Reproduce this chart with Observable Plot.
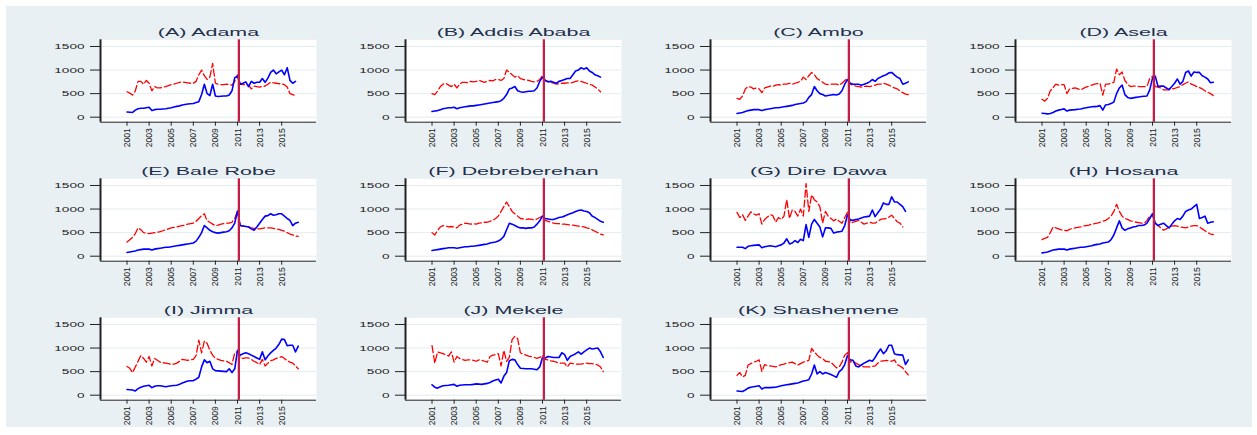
<!DOCTYPE html>
<html>
<head>
<meta charset="utf-8">
<script src="https://cdn.jsdelivr.net/npm/d3@7"></script>
<script src="https://cdn.jsdelivr.net/npm/@observablehq/plot@0.6"></script>
<style>
  html, body { margin: 0; padding: 0; background: #ffffff; }
  #page { position: relative; width: 1257px; height: 435px; background: #ffffff; overflow: hidden; }
  #region { position: absolute; left: 6px; top: 6px; width: 1246px; height: 421px; background: #E9F0F3; }
</style>
</head>
<body>
<div id="page"><div id="region"></div></div>
<script>
// Markets, in panel order
const cities = ["Adama", "Addis Ababa", "Ambo", "Asela", "Bale Robe", "Debreberehan",
                "Dire Dawa", "Hosana", "Jimma", "Mekele", "Shashemene"];
const panelTags = ["A", "B", "C", "D", "E", "F", "G", "H", "I", "J", "K"];

// Quarterly observations, 2001Q1 .. 2016Q3
const firstYear = 2001;
const quarters = Array.from({length: 63}, (_, i) => firstYear + i / 4);

const yearTicks = [2001, 2003, 2005, 2007, 2009, 2011, 2013, 2015];
const priceTicks = [0, 500, 1000, 1500];
const policyBreak = 2011.125;

// Nominal (solid) and real (dashed) prices per market, one value per quarter
const nominalAdama = [110,105,100,150, 180,190,190,200, 210,140,160,170, 170,175,180,190,
  200,215,230,240, 260,270,280,285, 290,310,330,480, 700,500,460,700, 450,440,445,450,
  450,470,560,840, 870,700,720,750, 650,760,720,740, 740,820,740,830, 950,1000,920,960,
  1000,900,1050,780, 720,760,null];
const realAdama = [540,510,470,560, 760,760,700,780, 720,560,650,620, 620,640,650,670,
  690,700,720,740, 750,740,730,720, 720,760,900,1000, 880,800,850,1140, 720,700,690,690,
  700,690,680,760, 900,700,690,690, 680,600,660,650, 640,650,660,700, 740,730,720,710,
  710,690,640,500, 480,460,null];

const nominalAddis = [120,130,140,160, 180,190,200,200, 210,180,200,210, 220,230,240,240,
  250,260,270,280, 290,300,310,320, 330,350,400,480, 600,620,650,560, 540,530,540,550,
  550,560,620,760, 850,780,750,760, 740,720,760,780, 800,820,820,900, 980,1000,1050,1020,
  1050,980,950,900, 880,850,null];
const realAddis = [500,480,550,650, 700,720,680,650, 700,620,700,740, 740,730,760,750,
  760,780,760,740, 760,780,770,800, 800,780,820,1000, 950,900,850,880, 820,800,790,780,
  760,750,760,800, 880,780,760,740, 720,700,710,720, 720,730,720,740, 760,770,760,740,
  720,700,680,640, 600,540,null];

const nominalAmbo = [80,90,100,120, 140,150,160,160, 160,140,160,170, 180,190,200,200,
  210,220,230,240, 250,270,280,290, 300,330,420,480, 650,560,500,480, 450,460,470,480,
  470,490,560,700, 800,720,700,700, 700,680,700,720, 750,800,760,820, 850,880,900,940,
  950,900,850,820, 700,720,750];
const realAmbo = [400,380,450,600, 650,640,600,620, 600,520,620,640, 660,650,680,690,
  680,700,700,720, 700,720,740,760, 850,800,880,950, 900,820,780,740, 700,690,700,700,
  700,680,720,780, 820,700,680,660, 650,640,650,660, 650,660,680,700, 700,720,700,680,
  650,620,600,560, 520,490,480];

const nominalAsela = [85,80,70,80, 100,130,150,165, 177,130,150,155, 160,170,175,190,
  200,210,220,225, 230,245,150,260, 270,290,320,500, 620,680,480,420, 400,410,420,430,
  440,445,450,580, 830,870,650,660, 660,620,590,650, 720,810,700,760, 950,980,870,960,
  950,950,880,850, 810,730,740];
const realAsela = [380,340,400,560, 630,700,680,690, 690,500,600,610, 620,600,580,610,
  640,660,680,700, 710,720,470,700, 700,720,740,1020, 900,960,780,700, 650,660,660,650,
  650,650,650,820, 870,650,640,620, 580,580,580,600, 610,630,650,690, 720,750,700,680,
  650,630,600,560, 530,500,460];

const nominalBaleRobe = [80,90,100,110, 130,140,150,150, 150,130,150,160, 170,180,190,190,
  200,210,220,230, 240,250,260,270, 280,320,400,500, 650,600,550,520, 500,490,500,510,
  520,540,600,700, 960,650,640,630, 620,580,550,620, 700,780,850,860, 900,870,880,900,
  900,850,800,760, 650,700,720];
const realBaleRobe = [300,350,400,480, 600,560,500,490, 480,490,500,510, 520,540,560,580,
  600,610,620,640, 650,660,680,690, 700,740,800,860, 900,750,720,680, 650,660,680,690,
  700,700,720,800, 950,650,640,630, 620,600,590,580, 580,590,600,600, 600,590,580,570,
  550,530,500,470, 450,430,420];

const nominalDebreberehan = [120,130,140,150, 160,170,180,180, 180,170,180,190, 200,200,210,210,
  220,230,240,250, 260,280,290,300, 320,360,420,560, 700,680,650,620, 600,600,590,600,
  600,620,680,750, 850,800,790,780, 780,800,820,830, 850,880,900,920, 950,970,980,960,
  950,920,850,820, 780,740,720];
const realDebreberehan = [500,450,550,620, 650,640,620,630, 620,600,660,680, 700,690,680,690,
  680,700,710,720, 720,740,760,800, 850,950,1050,1150, 1050,950,900,850, 800,790,780,790,
  780,770,790,820, 850,760,740,720, 700,690,690,680, 680,670,660,660, 650,640,630,620,
  600,590,560,530, 500,470,450];

const nominalDireDawa = [190,190,190,160, 210,220,230,235, 240,180,200,210, 220,210,200,220,
  240,280,370,260, 280,330,290,360, 330,670,400,680, 780,700,620,410, 600,600,590,490,
  510,520,530,650, 880,770,760,780, 790,810,830,840, 850,980,840,920, 1000,1130,1100,1100,
  1260,1150,1150,1100, 1050,950,null];
const realDireDawa = [930,820,880,760, 850,940,900,870, 900,680,780,830, 880,860,720,820,
  780,850,1200,800, 980,950,850,1000, 850,1540,950,1300, 1200,1150,1050,700, 950,850,800,750,
  790,740,700,820, 930,700,720,740, 760,720,680,700, 720,700,700,740, 780,790,800,830,
  870,800,730,700, 620,null,null];

const nominalHosana = [70,80,90,110, 130,140,150,150, 150,130,150,160, 170,180,190,190,
  200,210,220,240, 250,260,280,290, 300,350,450,600, 750,600,550,580, 600,620,630,650,
  650,660,700,800, 900,700,650,680, 700,650,600,680, 750,800,780,850, 950,980,1000,1050,
  1100,800,820,850, 700,720,730];
const realHosana = [350,380,400,500, 620,600,580,560, 550,540,570,590, 600,610,620,640,
  650,660,680,690, 700,720,740,760, 800,850,950,1100, 950,850,800,780, 750,740,720,710,
  700,700,760,850, 880,700,650,600, 550,580,620,640, 650,640,620,610, 600,620,640,650,
  650,620,580,540, 500,470,460];

const nominalJimma = [120,115,110,90, 140,170,190,200, 210,160,190,200, 200,190,180,190,
  200,205,210,230, 260,280,300,305, 310,340,380,600, 750,690,720,560, 520,515,510,505,
  500,560,480,560, 950,850,880,900, 880,850,820,790, 760,920,750,830, 900,950,1000,1080,
  1190,1180,1050,1060, 1060,920,1040];
const realJimma = [610,570,480,600, 720,840,780,700, 820,620,780,740, 700,690,680,670,
  650,660,680,720, 760,750,740,750, 760,840,1170,900, 1150,1100,950,850, 780,760,740,730,
  720,690,650,900, 920,790,780,790, 790,760,720,690, 650,760,620,680, 730,750,780,800,
  820,780,730,700, 680,620,560];

const nominalMekele = [220,170,150,180, 200,205,210,220, 230,190,210,215, 220,220,220,230,
  240,235,230,240, 250,270,300,320, 340,260,400,480, 730,760,750,650, 570,565,560,560,
  560,550,540,600, 800,790,820,810, 800,800,800,900, 860,740,820,850, 880,920,870,920,
  960,1000,980,990, 1000,920,800];
const realMekele = [1050,680,920,900, 880,860,830,920, 700,820,780,760, 740,750,750,740,
  720,750,740,720, 700,820,850,860, 880,620,950,720, 800,1180,1250,1200, 900,870,850,830,
  820,800,780,800, 850,760,750,730, 720,700,680,680, 680,600,680,670, 660,660,660,670,
  680,670,670,660, 640,600,500];

const nominalShashemene = [90,85,80,110, 150,170,180,190, 200,130,160,160, 160,165,170,185,
  200,210,220,230, 240,250,260,280, 300,310,330,450, 640,450,500,450, 480,460,440,410,
  380,500,550,650, 840,750,740,620, 600,640,680,710, 740,720,800,900, 980,880,940,1060,
  1060,880,860,855, 850,650,750];
const realShashemene = [420,480,390,420, 640,670,700,720, 750,500,650,630, 620,610,600,620,
  650,660,680,690, 700,670,640,670, 700,720,740,990, 920,850,800,780, 720,710,700,640,
  580,600,700,850, 900,700,720,680, 650,620,600,600, 600,610,620,680, 720,730,740,730,
  720,750,650,620, 580,500,430];

const nominalByCity = {
  "Adama": nominalAdama, "Addis Ababa": nominalAddis, "Ambo": nominalAmbo, "Asela": nominalAsela,
  "Bale Robe": nominalBaleRobe, "Debreberehan": nominalDebreberehan, "Dire Dawa": nominalDireDawa,
  "Hosana": nominalHosana, "Jimma": nominalJimma, "Mekele": nominalMekele, "Shashemene": nominalShashemene
};
const realByCity = {
  "Adama": realAdama, "Addis Ababa": realAddis, "Ambo": realAmbo, "Asela": realAsela,
  "Bale Robe": realBaleRobe, "Debreberehan": realDebreberehan, "Dire Dawa": realDireDawa,
  "Hosana": realHosana, "Jimma": realJimma, "Mekele": realMekele, "Shashemene": realShashemene
};

// Panel geometry
const xDomain = [1998.6, 2018.15];
const yDomain = [-106, 1642];
const panelW = 276, panelH = 138.7;
const colStep = 305, rowStep = 138.8;
const gridLeft = 50, gridTop = 10;
const fontStack = "'Liberation Sans', Arial, Helvetica, sans-serif";

// Widen (or thicken) a text element around its own anchor point
function stretchText(el, sx, sy) {
  let tr = el.getAttribute("transform") || "";
  const x = el.getAttribute("x");
  if (x !== null && !isNaN(+x) && +x !== 0) {
    el.removeAttribute("x");
    tr += ` translate(${x},0)`;
  }
  el.setAttribute("transform", `${tr} scale(${sx},${sy})`);
}

const page = document.getElementById("page");

cities.forEach((city, i) => {
  const nominal = nominalByCity[city];
  const real = realByCity[city];
  const chart = Plot.plot({
    width: panelW,
    height: panelH,
    marginLeft: 50,
    marginRight: 10,
    marginTop: 29.3,
    marginBottom: 27,
    style: {background: "transparent", fontFamily: fontStack, overflow: "visible", color: "#222"},
    x: {domain: xDomain},
    y: {domain: yDomain},
    marks: [
      Plot.frame({fill: "white", stroke: null}),
      Plot.gridY(priceTicks, {stroke: "#E3ECEF", strokeOpacity: 1, strokeWidth: 1}),
      Plot.line(real, {x: (d, k) => quarters[k], y: (d) => d ?? NaN,
        stroke: "#FF0000", strokeWidth: 1.3, strokeDasharray: "7,3"}),
      Plot.line(nominal, {x: (d, k) => quarters[k], y: (d) => d ?? NaN,
        stroke: "#0000FF", strokeWidth: 1.6}),
      Plot.ruleX([policyBreak], {stroke: "#C41E46", strokeWidth: 2.3}),
      Plot.ruleX([xDomain[0]], {stroke: "#222", strokeWidth: 2}),
      Plot.ruleY([yDomain[0]], {stroke: "#222", strokeWidth: 1}),
      Plot.axisY(priceTicks, {tickSize: 10, tickPadding: 6, fontSize: 8, label: null,
        tickFormat: (d) => String(d), stroke: "#222", fill: "#222"}),
      Plot.axisX(yearTicks, {tickSize: 4, tickPadding: 2, tickRotate: -90, fontSize: 8.6,
        tickFormat: (d) => String(d), label: null, stroke: "#222", fill: "#222"}),
      Plot.text([`(${panelTags[i]}) ${city}`], {frameAnchor: "top", lineAnchor: "bottom", dy: -4,
        fontSize: 11, fill: "#1F2F4A"})
    ]
  });

  chart.querySelectorAll('g[aria-label="y-axis tick label"] text').forEach((t) => stretchText(t, 1.7, 1));
  chart.querySelectorAll('g[aria-label="x-axis tick label"] text').forEach((t) => stretchText(t, 1, 1.1));
  chart.querySelectorAll('g[aria-label="text"] text').forEach((t) => stretchText(t, 1.95, 1));

  chart.style.position = "absolute";
  chart.style.left = `${gridLeft + (i % 4) * colStep}px`;
  chart.style.top = `${gridTop + Math.floor(i / 4) * rowStep}px`;
  page.appendChild(chart);
});
</script>
</body>
</html>
